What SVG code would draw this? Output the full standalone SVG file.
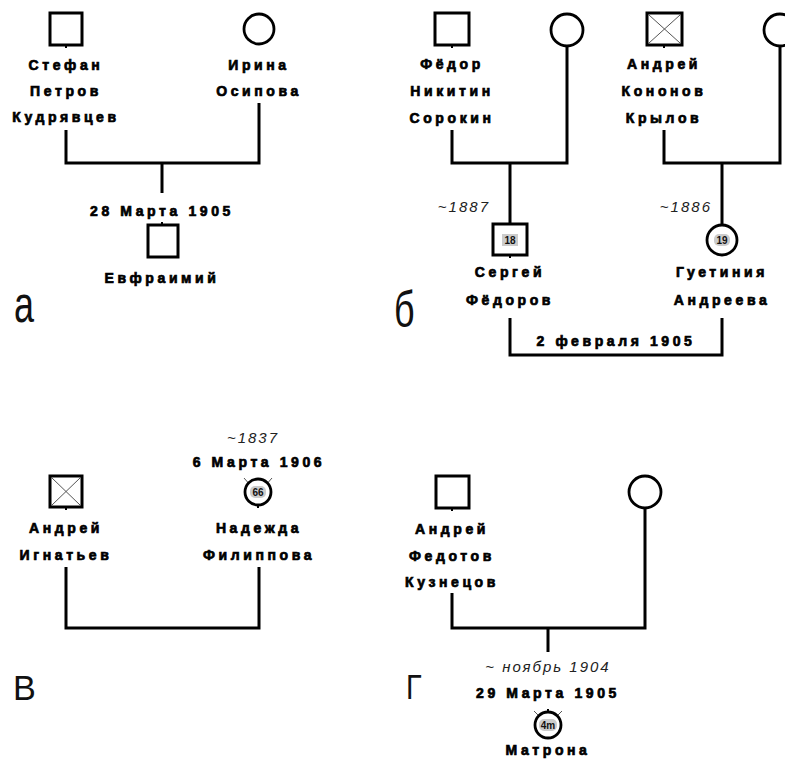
<svg xmlns="http://www.w3.org/2000/svg" width="785" height="767" viewBox="0 0 785 767">
<style>
.sq{fill:#fff;stroke:#000;stroke-width:3}
.ci{fill:#fff;stroke:#000;stroke-width:2.8}
.x{stroke:#555;stroke-width:1}
.ln{fill:none;stroke:#000;stroke-width:3}
.tk{stroke:#000;stroke-width:2}
.nm{font-family:"Liberation Sans",Arial,sans-serif;font-weight:bold;font-size:14px;letter-spacing:3.6px;text-anchor:middle;fill:#000;stroke:#000;stroke-width:0.7}
.it{font-family:"Liberation Sans",Arial,sans-serif;font-style:italic;font-size:15px;letter-spacing:2px;fill:#222}
.lb{font-family:"Liberation Sans",Arial,sans-serif;font-weight:bold;font-size:10px;text-anchor:middle;fill:#111}
.bg{fill:#ccc}
.pl{font-family:"Liberation Sans",Arial,sans-serif;font-size:36px;fill:#111}
</style>
<rect width="785" height="767" fill="#fff"/>

<g id="connectors">
<path class="ln" d="M66 130V163H259V103"/>
<path class="ln" d="M162 163V193"/>
<path class="ln" d="M452 130V163H567V46"/>
<path class="ln" d="M510 163V224"/>
<path class="ln" d="M664 130V163H780V46"/>
<path class="ln" d="M722 163V225"/>
<path class="ln" d="M510 318V355H722V318"/>
<path class="ln" d="M66 567V628H259V567"/>
<path class="ln" d="M452 593V628H645V508"/>
<path class="ln" d="M548 628V652"/>
</g>

<!-- panel a -->
<g id="stefan">
<rect class="sq" x="50" y="13" width="32" height="32"/>
<line class="tk" x1="66" y1="45" x2="66" y2="48"/>
<text class="nm" x="66" y="70">Стефан</text>
<text class="nm" x="66" y="96">Петров</text>
<text class="nm" x="66" y="122">Кудрявцев</text>
</g>
<g id="irina">
<circle class="ci" cx="259" cy="29" r="15"/>
<text class="nm" x="259" y="70">Ирина</text>
<text class="nm" x="259" y="96">Осипова</text>
</g>
<g id="evfraimiy">
<text class="nm" x="162" y="216">28 Марта 1905</text>
<rect class="sq" x="148" y="225" width="30" height="32"/>
<line class="tk" x1="162" y1="222" x2="162" y2="225"/>
<text class="nm" x="162" y="283">Евфраимий</text>
</g>
<text class="pl" x="0" y="0" transform="translate(14 322) scale(1 1.45)">а</text>

<!-- panel b -->
<g id="fedor">
<rect class="sq" x="435" y="13" width="34" height="32"/>
<line class="tk" x1="452" y1="45" x2="452" y2="48"/>
<text class="nm" x="452" y="69">Фёдор</text>
<text class="nm" x="452" y="96">Никитин</text>
<text class="nm" x="452" y="123">Сорокин</text>
</g>
<g id="fedor-wife">
<circle class="ci" cx="567" cy="30" r="16"/>
</g>
<g id="andrey-krylov">
<rect class="sq" x="647" y="13" width="35" height="32"/>
<line class="x" x1="649" y1="15" x2="680" y2="43"/>
<line class="x" x1="680" y1="15" x2="649" y2="43"/>
<line class="tk" x1="664" y1="45" x2="664" y2="48"/>
<text class="nm" x="664" y="69">Андрей</text>
<text class="nm" x="664" y="96">Кононов</text>
<text class="nm" x="664" y="123">Крылов</text>
</g>
<g id="andrey-wife">
<circle class="ci" cx="780" cy="30" r="16"/>
</g>
<g id="sergey">
<text class="it" x="490" y="212" text-anchor="end">~1887</text>
<rect class="sq" x="493" y="224" width="34" height="31"/>
<rect class="bg" x="502" y="234" width="16" height="12"/>
<text class="lb" x="510" y="244">18</text>
<line class="tk" x1="510" y1="255" x2="510" y2="258"/>
<text class="nm" x="510" y="277">Сергей</text>
<text class="nm" x="510" y="305">Фёдоров</text>
</g>
<g id="gustiniya">
<text class="it" x="712" y="212" text-anchor="end">~1886</text>
<circle class="ci" cx="722" cy="240" r="15"/>
<rect class="bg" x="714" y="234" width="16" height="12" rx="5"/>
<text class="lb" x="722" y="244">19</text>
<text class="nm" x="722" y="277">Гуетиния</text>
<text class="nm" x="722" y="305">Андреева</text>
</g>
<text class="nm" x="616" y="346">2 февраля 1905</text>
<text class="pl" x="0" y="0" transform="translate(394 327) scale(1 1.4)">б</text>

<!-- panel v -->
<g id="andrey-ignatiev">
<rect class="sq" x="50" y="476" width="32" height="31"/>
<line class="x" x1="52" y1="478" x2="80" y2="505"/>
<line class="x" x1="80" y1="478" x2="52" y2="505"/>
<line class="tk" x1="66" y1="507" x2="66" y2="510"/>
<text class="nm" x="66" y="533">Андрей</text>
<text class="nm" x="66" y="560">Игнатьев</text>
</g>
<g id="nadezhda">
<text class="it" x="253" y="443" text-anchor="middle">~1837</text>
<text class="nm" x="259" y="467">6 Марта 1906</text>
<line class="x" x1="244" y1="478" x2="251" y2="486"/>
<line class="x" x1="272" y1="478" x2="265" y2="486"/>
<circle class="ci" cx="258" cy="492" r="13"/>
<line class="tk" x1="258" y1="505" x2="258" y2="508"/>
<rect class="bg" x="250" y="486" width="16" height="12" rx="5"/>
<text class="lb" x="258" y="496">66</text>
<text class="nm" x="259" y="533">Надежда</text>
<text class="nm" x="259" y="560">Филиппова</text>
</g>
<text class="pl" x="0" y="0" transform="translate(13 700) scale(0.95 0.95)">В</text>

<!-- panel g -->
<g id="andrey-kuznetsov">
<rect class="sq" x="436" y="476" width="33" height="32"/>
<line class="tk" x1="452" y1="508" x2="452" y2="511"/>
<text class="nm" x="452" y="534">Андрей</text>
<text class="nm" x="452" y="561">Федотов</text>
<text class="nm" x="452" y="587">Кузнецов</text>
</g>
<g id="kuznetsov-wife">
<circle class="ci" cx="645" cy="492" r="16"/>
</g>
<g id="matrona">
<text class="it" x="548" y="672" text-anchor="middle">~ ноябрь 1904</text>
<text class="nm" x="548" y="698">29 Марта 1905</text>
<line class="x" x1="534" y1="711" x2="540" y2="717"/>
<line class="x" x1="562" y1="711" x2="556" y2="717"/>
<line class="tk" x1="548" y1="709" x2="548" y2="712"/>
<circle class="ci" cx="548" cy="725" r="13"/>
<rect class="bg" x="539" y="719" width="18" height="12" rx="5"/>
<text class="lb" x="548" y="729">4m</text>
<text class="nm" x="548" y="755">Матрона</text>
</g>
<text class="pl" x="0" y="0" transform="translate(406 699) scale(0.8 1)">Г</text>
</svg>
